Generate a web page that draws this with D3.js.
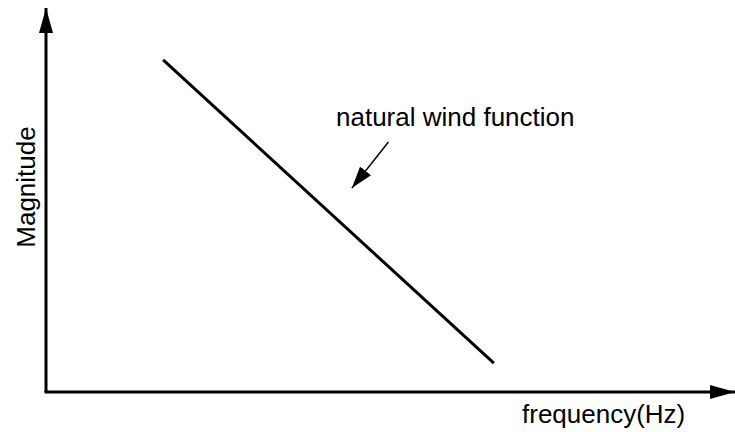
<!DOCTYPE html>
<html>
<head>
<meta charset="utf-8">
<script src="https://cdn.jsdelivr.net/npm/d3@7"></script>
<style>
  html, body { margin: 0; padding: 0; background: #fff; }
  text { font-family: Arial, "Liberation Sans", sans-serif; fill: #000; }
</style>
</head>
<body>
<div id="chart"></div>
<script>
// line end points (frequency, magnitude), arbitrary units 0..100
const lineFreq = [17, 65];
const lineMag = [86.5, 7.5];

// labels
const xLabel = "frequency(Hz)";
const yLabel = "Magnitude";
const noteText = "natural wind function";
// annotation arrow, from -> to, in data units
const noteFrom = [49.7, 65.1];
const noteTo = [44.4, 53.1];

const width = 735, height = 432;
const x0 = 46, y0 = 392;

const x = d3.scaleLinear().domain([0, 100]).range([x0, width]);
const y = d3.scaleLinear().domain([0, 100]).range([y0, 8]);

const svg = d3.select("#chart")
  .append("svg")
  .attr("width", width)
  .attr("height", height);

const defs = svg.append("defs");
defs.append("marker")
  .attr("id", "bigArrow")
  .attr("viewBox", "0 0 25 14")
  .attr("refX", 25)
  .attr("refY", 7)
  .attr("markerWidth", 25)
  .attr("markerHeight", 14)
  .attr("markerUnits", "userSpaceOnUse")
  .attr("orient", "auto")
  .append("path")
  .attr("d", "M0,0 L25,7 L0,14 Z")
  .attr("fill", "#000");

defs.append("marker")
  .attr("id", "smallArrow")
  .attr("viewBox", "0 0 22 14")
  .attr("refX", 22)
  .attr("refY", 7)
  .attr("markerWidth", 22)
  .attr("markerHeight", 14)
  .attr("markerUnits", "userSpaceOnUse")
  .attr("orient", "auto")
  .append("path")
  .attr("d", "M0,0 L22,7 L0,14 Z")
  .attr("fill", "#000");

// axes
svg.append("line")
  .attr("x1", x(0)).attr("y1", y(0))
  .attr("x2", x(0)).attr("y2", y(100))
  .attr("stroke", "#000")
  .attr("stroke-width", 3)
  .attr("marker-end", "url(#bigArrow)");

svg.append("line")
  .attr("x1", x(0) - 1.5).attr("y1", y(0))
  .attr("x2", x(100)).attr("y2", y(0))
  .attr("stroke", "#000")
  .attr("stroke-width", 3)
  .attr("marker-end", "url(#bigArrow)");

// the function line
const line = d3.line()
  .x(d => x(d[0]))
  .y(d => y(d[1]));

svg.append("path")
  .datum(d3.zip(lineFreq, lineMag))
  .attr("d", line)
  .attr("fill", "none")
  .attr("stroke", "#000")
  .attr("stroke-width", 3);

// annotation
svg.append("line")
  .attr("x1", x(noteFrom[0])).attr("y1", y(noteFrom[1]))
  .attr("x2", x(noteTo[0])).attr("y2", y(noteTo[1]))
  .attr("stroke", "#000")
  .attr("stroke-width", 1.5)
  .attr("marker-end", "url(#smallArrow)");

svg.append("text")
  .attr("x", 336)
  .attr("y", 126)
  .attr("font-size", 26)
  .text(noteText);

svg.append("text")
  .attr("x", 522)
  .attr("y", 423)
  .attr("font-size", 26)
  .text(xLabel);

svg.append("text")
  .attr("transform", "translate(35,187) rotate(-90)")
  .attr("text-anchor", "middle")
  .attr("font-size", 26)
  .text(yLabel);
</script>
</body>
</html>
